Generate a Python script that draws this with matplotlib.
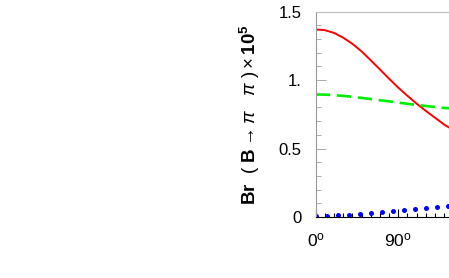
import matplotlib
matplotlib.use('Agg')
import matplotlib.pyplot as plt
from matplotlib.ticker import MultipleLocator, FixedLocator

plt.rcParams['font.family'] = ['Liberation Sans', 'DejaVu Sans']
plt.rcParams['mathtext.fontset'] = 'custom'
plt.rcParams['mathtext.rm'] = 'Liberation Sans'
plt.rcParams['mathtext.it'] = 'Liberation Sans:italic'
plt.rcParams['mathtext.bf'] = 'Liberation Sans:bold'

# 曲线数据 (角度, 分支比)
angle = [0, 10, 20, 30, 40, 50, 60, 70, 80, 90, 100, 110, 120, 130, 140, 150]
br_red = [1.37, 1.365, 1.345, 1.31, 1.265, 1.21, 1.145, 1.078, 1.01, 0.945,
          0.885, 0.828, 0.775, 0.725, 0.675, 0.635]
br_green = [0.895, 0.894, 0.89, 0.885, 0.878, 0.87, 0.862, 0.853, 0.845, 0.836,
            0.827, 0.819, 0.811, 0.804, 0.797, 0.792]

angle_dot = [0, 12, 24, 36, 48, 60, 72, 84, 96, 108, 120, 132, 144]
br_blue = [0.010, 0.010, 0.012, 0.017, 0.024, 0.032, 0.039, 0.046, 0.054,
           0.061, 0.068, 0.075, 0.080]

yticks = [0, 0.5, 1.0, 1.5]
ytick_labels = ['0', '0.5', '1.', '1.5']
xticks = [0, 90]
xtick_labels = ['0$^\\mathrm{o}$', '90$^\\mathrm{o}$']

fig = plt.figure(figsize=(4.49, 2.78), dpi=100)
ax = fig.add_axes([0.703, 0.2194, 0.297, 0.7386])

ax.plot(angle, br_red, color='#ff0000', lw=1.4)
ax.plot(angle, br_green, color='#00ee00', lw=1.9, dashes=(5.5, 2.5))
ax.plot(angle_dot, br_blue, 'o', color='#0000ff', ms=3.6, mec='none')

ax.set_xlim(0, 145.2)
ax.set_ylim(0, 1.5)

ax.yaxis.set_major_locator(FixedLocator(yticks))
ax.set_yticklabels(ytick_labels)
ax.yaxis.set_minor_locator(MultipleLocator(0.1))
ax.xaxis.set_major_locator(FixedLocator(xticks))
ax.set_xticklabels(xtick_labels)
ax.xaxis.set_minor_locator(MultipleLocator(10))

ax.tick_params(axis='y', which='major', direction='in', length=7.2, width=0.7,
               color='#aaaaaa', labelsize=12, pad=10)
ax.tick_params(axis='y', which='minor', direction='in', length=3.6, width=0.7,
               color='#aaaaaa')
ax.tick_params(axis='x', which='major', direction='in', length=5.8, width=0.8,
               color='black', labelsize=12.5, pad=10)
ax.tick_params(axis='x', which='minor', direction='in', length=3.2, width=0.8,
               color='black')

ax.spines['right'].set_visible(False)
ax.spines['left'].set_color('#999999')
ax.spines['top'].set_color('#bbbbbb')
ax.spines['left'].set_linewidth(0.8)
ax.spines['top'].set_linewidth(0.8)
ax.spines['bottom'].set_linewidth(0.8)

ax.set_ylabel(r'$\mathbf{Br}\ \ (\ \mathbf{B} \rightarrow \mathit{\pi}\ \ \ \mathit{\pi}\ )\times\mathbf{10^5}$',
              fontsize=13.5)
ax.yaxis.set_label_coords(-0.40, 0.5)

fig.savefig('out.png', dpi=100)
